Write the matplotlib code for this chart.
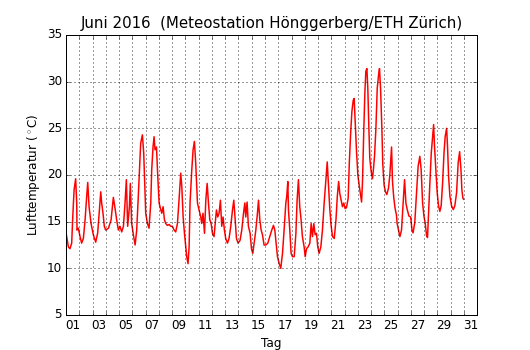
import matplotlib
matplotlib.use('Agg')
import matplotlib.pyplot as plt
from matplotlib.ticker import FixedLocator, FixedFormatter

# time in days since 1 June 00:00, air temperature in deg C
tage = [0.03, 0.18, 0.30, 0.43, 0.51, 0.61, 0.73, 0.81, 0.83, 0.93, 1.06, 1.18, 1.31, 1.44,
        1.54, 1.64, 1.74, 1.89, 2.06, 2.24, 2.39, 2.52, 2.62, 2.69, 2.79, 2.89, 2.99, 3.20,
        3.40, 3.57, 3.70, 3.82, 3.95, 4.07, 4.20, 4.33, 4.45, 4.55, 4.65, 4.78, 4.85, 4.95,
        5.08, 5.21, 5.33, 5.46, 5.63, 5.76, 5.86, 5.94, 6.01, 6.14, 6.26, 6.39, 6.46, 6.56,
        6.64, 6.71, 6.82, 6.92, 7.02, 7.14, 7.22, 7.32, 7.42, 7.52, 7.64, 7.77, 7.90, 8.02,
        8.15, 8.27, 8.40, 8.52, 8.65, 8.73, 8.83, 8.93, 9.03, 9.10, 9.20, 9.28, 9.35, 9.48,
        9.58, 9.68, 9.78, 9.91, 10.03, 10.16, 10.23, 10.33, 10.44, 10.54, 10.64, 10.74, 10.84,
        10.94, 11.04, 11.16, 11.34, 11.44, 11.54, 11.64, 11.74, 11.84, 11.94, 12.04, 12.17,
        12.29, 12.42, 12.55, 12.65, 12.75, 12.85, 12.97, 13.12, 13.25, 13.38, 13.48, 13.55,
        13.65, 13.75, 13.88, 13.98, 14.08, 14.18, 14.31, 14.43, 14.51, 14.61, 14.71, 14.81,
        14.93, 15.06, 15.21, 15.36, 15.51, 15.64, 15.74, 15.84, 15.94, 16.07, 16.19, 16.32,
        16.44, 16.57, 16.64, 16.72, 16.77, 16.87, 16.97, 17.07, 17.20, 17.33, 17.42, 17.52,
        17.62, 17.72, 17.82, 17.95, 18.03, 18.13, 18.25, 18.38, 18.48, 18.58, 18.68, 18.78,
        18.88, 18.98, 19.08, 19.21, 19.33, 19.46, 19.59, 19.69, 19.79, 19.89, 19.99, 20.09,
        20.22, 20.35, 20.45, 20.55, 20.64, 20.74, 20.84, 20.94, 21.04, 21.14, 21.27, 21.35,
        21.45, 21.55, 21.65, 21.72, 21.80, 21.90, 22.00, 22.10, 22.20, 22.28, 22.35, 22.45,
        22.53, 22.60, 22.68, 22.75, 22.83, 22.90, 23.00, 23.10, 23.18, 23.26, 23.36, 23.46,
        23.56, 23.63, 23.71, 23.81, 23.88, 23.98, 24.08, 24.18, 24.31, 24.41, 24.54, 24.61,
        24.71, 24.81, 24.91, 24.96, 25.17, 25.29, 25.41, 25.52, 25.62, 25.72, 25.85, 25.98,
        26.08, 26.16, 26.29, 26.42, 26.54, 26.67, 26.77, 26.88, 26.98, 27.07, 27.18, 27.25,
        27.33, 27.43, 27.53, 27.63, 27.71, 27.78, 27.88, 27.98, 28.08, 28.18, 28.28, 28.39,
        28.49, 28.58, 28.69, 28.76, 28.84, 28.94, 29.06, 29.19, 29.31, 29.44, 29.56, 29.67,
        29.77, 29.84, 29.92, 29.97]
temp = [13.6, 12.3, 12.1, 12.7, 15.5, 18.4, 19.6, 17.0, 14.1, 14.3, 13.4, 12.7, 13.2, 15.2,
        17.3, 19.2, 16.6, 14.8, 13.6, 12.8, 13.8, 16.3, 18.2, 17.0, 15.9, 14.5, 14.1, 14.3,
        15.2, 17.6, 16.4, 15.2, 14.1, 14.5, 13.9, 14.5, 17.0, 19.5, 14.5, 16.6, 19.1, 14.8,
        13.6, 12.5, 14.1, 18.0, 23.4, 24.3, 22.3, 18.75, 15.9, 14.8, 14.3, 17.0, 20.5, 23.0,
        24.1, 22.7, 23.0, 19.8, 17.0, 16.3, 15.9, 16.6, 15.2, 14.8, 14.6, 14.7, 14.5, 14.5,
        14.1, 13.9, 14.8, 17.3, 20.2, 18.75, 15.5, 13.75, 12.3, 11.25, 10.5, 12.3, 17.0, 20.5,
        22.7, 23.6, 21.25, 17.0, 16.25, 15.5, 14.8, 15.9, 13.75, 17.3, 19.1, 17.0, 15.2,
        14.8, 13.75, 13.4, 16.25, 15.5, 15.9, 17.3, 14.5, 15.5, 14.1, 13.2, 12.7,
        13.2, 14.5, 16.25, 17.3, 15.2, 13.2, 12.7, 13.0, 14.1, 15.9, 17.0, 15.5,
        17.1, 14.5, 13.75, 12.1, 11.6, 12.7, 14.1, 15.9, 17.3, 15.2, 14.1, 13.6,
        12.5, 12.5, 12.7, 13.4, 14.1, 14.6, 14.1, 12.7, 11.25, 10.5, 10.0, 11.6,
        14.1, 17.0, 17.7, 19.3, 16.25, 14.1, 11.6, 11.25, 11.25, 13.75, 17.3, 19.5,
        16.6, 15.2, 13.4, 12.3, 11.25, 12.1, 12.3, 12.7, 14.8, 13.4, 14.8, 13.6,
        13.75, 12.3, 11.6, 12.3, 14.1, 17.0, 19.5, 21.4, 18.75, 16.25, 14.5, 13.4,
        13.2, 15.2, 17.7, 19.3, 18.0, 17.3, 16.6, 17.0, 16.4, 16.5, 17.5, 21.1,
        24.3, 26.8, 28.0, 28.2, 25.7, 22.5, 20.0, 18.9, 17.9, 17.1, 19.3, 25.0,
        28.9, 31.1, 31.4, 29.3, 25.0, 21.8, 20.4, 19.6, 20.7, 22.1, 25.0, 29.3,
        30.7, 31.4, 29.3, 25.0, 21.1, 18.9, 18.2, 17.9, 18.6, 20.0, 23.0, 19.3,
        17.5, 16.4, 15.7, 14.8, 13.4, 14.1, 17.0, 19.5, 17.0, 16.3, 15.6, 15.5,
        14.1, 13.8, 14.9, 18.1, 20.9, 22.0, 20.6, 17.0, 15.6, 14.9, 13.5, 13.3,
        16.0, 19.2, 22.3, 24.1, 25.4, 23.0, 20.6, 18.1, 16.7, 16.1, 16.7, 19.2,
        22.3, 24.1, 25.0, 23.0, 19.8, 17.7, 16.7, 16.3, 16.7, 18.1, 21.3, 22.5,
        20.6, 18.4, 17.5, 17.4]

tag_labels = ['%02d' % d if d % 2 == 1 else '' for d in range(1, 32)]

plt.style.use('classic')
fig = plt.figure(figsize=(530 / 72.0, 350 / 72.0), dpi=72, facecolor='white')
ax = fig.add_axes([0.1245, 0.1, 0.776, 0.8])
ax.plot(tage, temp, color='red', linewidth=1.5)

ax.set_xlim(0, 31)
ax.set_ylim(5, 35)
ax.xaxis.set_major_locator(FixedLocator(list(range(0, 32))))
ax.xaxis.set_major_formatter(FixedFormatter([''] * 32))
ax.xaxis.set_minor_locator(FixedLocator([d + 0.5 for d in range(0, 31)]))
ax.xaxis.set_minor_formatter(FixedFormatter(tag_labels))
ax.tick_params(axis='x', which='minor', length=0)
ax.set_yticks(range(5, 36, 5))
ax.grid(True, which='major', linestyle=':', color='black', linewidth=0.8)

ax.set_title(u'Juni 2016  (Meteostation Hönggerberg/ETH Zürich)', fontsize=15, pad=7)
ax.set_xlabel('Tag')
ax.set_ylabel(r'Lufttemperatur ($^\circ$C)')

fig.savefig('out.png', dpi=72, facecolor='white')
